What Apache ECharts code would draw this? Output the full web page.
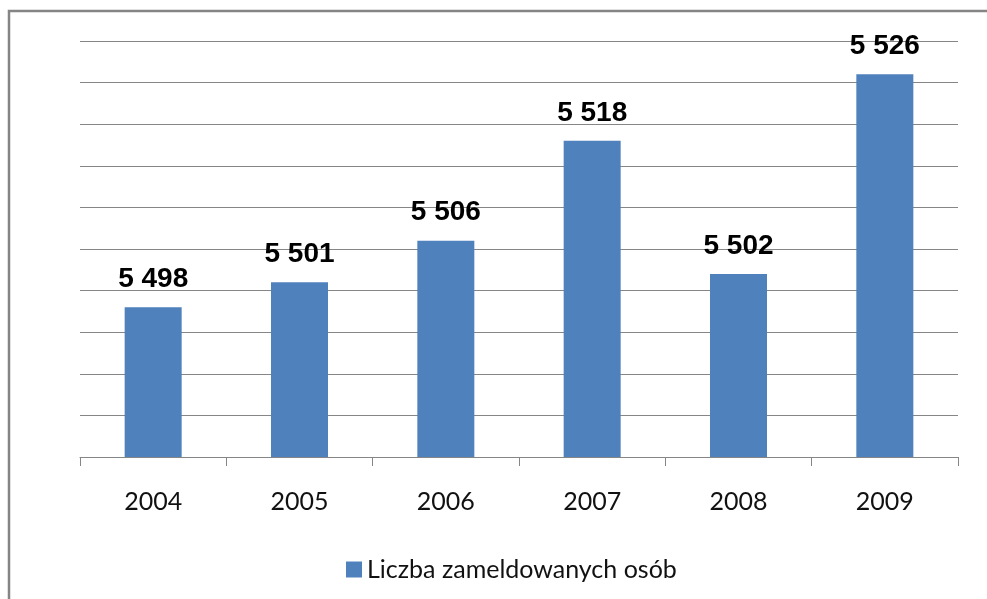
<!DOCTYPE html>
<html>
<head>
<meta charset="utf-8">
<script src="https://cdn.jsdelivr.net/npm/echarts@6/dist/echarts.min.js"></script>
<style>
  html, body { margin: 0; padding: 0; background: #fff; }
  #chart { width: 987px; height: 599px; }
</style>
</head>
<body>
<div id="chart"></div>
<script>
// values
var years = ['2004', '2005', '2006', '2007', '2008', '2009']
var residents = [5498, 5501, 5506, 5518, 5502, 5526]
var seriesName = 'Liczba zameldowanych osób'

var chart = echarts.init(document.getElementById('chart'))

function spaced(v) {
  return String(v).replace(/\B(?=(\d{3})+(?!\d))/g, ' ')
}

chart.setOption({
  animation: false,
  graphic: [
    {
      type: 'rect',
      shape: { x: 9, y: 11, width: 1200, height: 1000 },
      style: { fill: 'none', stroke: '#858585', lineWidth: 2.5 },
      silent: true
    }
  ],
  grid: {
    left: 80,
    top: 41,
    width: 878,
    height: 416
  },
  legend: {
    data: [seriesName],
    left: 341,
    top: 552,
    itemWidth: 16,
    itemHeight: 16,
    itemGap: 8,
    icon: 'rect',
    textStyle: { fontFamily: 'Lato', fontSize: 25, color: '#111' }
  },
  xAxis: {
    type: 'category',
    data: years,
    boundaryGap: true,
    axisLine: { lineStyle: { color: '#868686', width: 1 } },
    axisTick: { show: true, length: 9, lineStyle: { color: '#868686' } },
    axisLabel: {
      margin: 32,
      fontFamily: 'Lato',
      fontSize: 25,
      color: '#111'
    },
    splitLine: { show: false }
  },
  yAxis: {
    type: 'value',
    min: 5480,
    max: 5530,
    interval: 5,
    axisLine: { show: false },
    axisTick: { show: false },
    axisLabel: { show: false },
    splitLine: { lineStyle: { color: '#868686', width: 1 } }
  },
  series: [
    {
      name: seriesName,
      type: 'bar',
      data: residents,
      barWidth: 57,
      itemStyle: { color: '#4F81BD' },
      label: {
        show: true,
        position: 'top',
        distance: 14,
        fontFamily: 'Liberation Sans',
        fontWeight: 'bold',
        fontSize: 28,
        color: '#000',
        formatter: function(p) { return spaced(p.value) }
      }
    }
  ]
})
</script>
</body>
</html>
